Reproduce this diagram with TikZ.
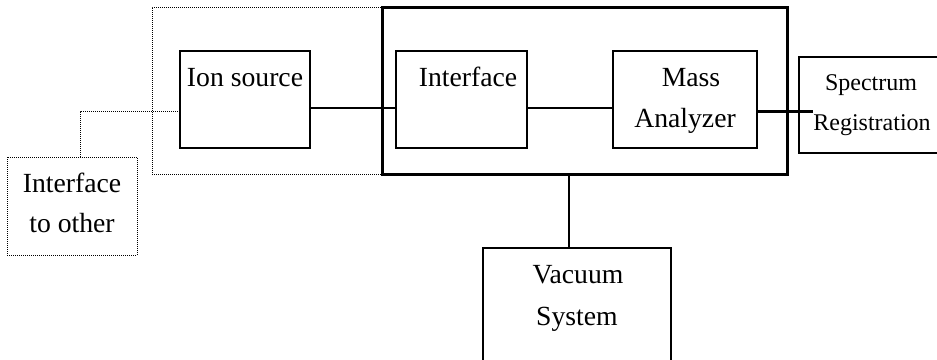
\documentclass[tikz,border=0pt]{standalone}
\usepackage{fontspec}
\setmainfont{Liberation Serif}
\begin{document}
\begin{tikzpicture}[x=1pt,y=-1pt,
  box/.style={draw, rectangle, inner sep=0pt, line width=1.8pt},
  bigbox/.style={draw, rectangle, inner sep=0pt, line width=3pt},
  dotbox/.style={draw, rectangle, inner sep=0pt, line width=1pt, dash pattern=on 1pt off 1pt},
  dotline/.style={line width=1pt, dash pattern=on 1pt off 1pt},
  wire/.style={line width=2.6pt},
  lbl/.style={anchor=base, inner sep=0pt, font=\fontsize{27.7}{40}\selectfont},
  slbl/.style={anchor=base, inner sep=0pt, font=\fontsize{24}{40}\selectfont}]
\useasboundingbox (0,0) rectangle (937,359);
\clip (0,0) rectangle (937,359);

% frames
\node[dotbox, minimum width=230pt, minimum height=167pt] (srcgrp) at (267,90.5) {};
\node[bigbox, minimum width=405pt, minimum height=167pt] (outer) at (584.5,90.5) {};

% blocks
\node[box, minimum width=130pt, minimum height=97pt] (ion) at (245,99.5) {};
\node[box, minimum width=131pt, minimum height=97pt] (iface) at (461.5,99.5) {};
\node[box, minimum width=144pt, minimum height=97pt] (mass) at (685,99.5) {};
\node[box, minimum width=151pt, minimum height=96pt] (spec) at (874.5,105) {};
\node[box, minimum width=188pt, minimum height=122pt] (vac) at (577,309) {};
\node[dotbox, minimum width=130pt, minimum height=98pt] (other) at (72,206) {};

% labels
\node[lbl] (tion) at (245,86) {Ion source};
\node[lbl] (tiface) at (468,86) {Interface};
\node[lbl] (tmass1) at (691,86) {Mass};
\node[lbl] (tmass2) at (685,127) {Analyzer};
\node[slbl] (tspec1) at (871,90) {Spectrum};
\node[slbl] (tspec2) at (872,130) {Registration};
\node[lbl] (tvac1) at (578,283) {Vacuum};
\node[lbl] (tvac2) at (577,325) {System};
\node[lbl] (toth1) at (72,192) {Interface};
\node[lbl] (toth2) at (72,232) {to other};

% connectors
\coordinate (specin) at (813,111.5);
\coordinate (vline) at (569,0);
\coordinate (oline) at (80,0);
\draw[wire] ([yshift=-8.5pt]ion.east) -- ([yshift=-8.5pt]iface.west);
\draw[wire, line width=2.2pt] ([yshift=-8.5pt]iface.east) -- ([yshift=-8.5pt]mass.west);
\draw[wire] ([yshift=-12pt]mass.east) -- (specin);
\draw[wire, line width=2.3pt] (outer.south -| vline) -- (vac.north -| vline);
\draw[dotline] (other.north -| oline) |- ([yshift=-12pt]ion.west);
\end{tikzpicture}
\end{document}
